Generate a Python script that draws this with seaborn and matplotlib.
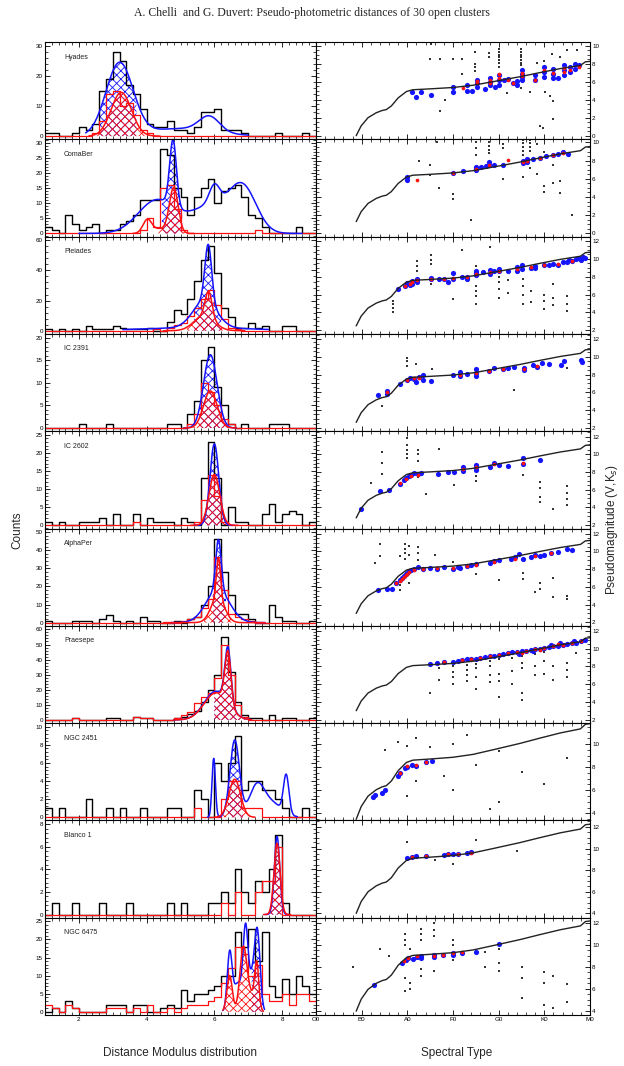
import numpy as np
import pandas as pd
import seaborn as sns
import matplotlib
matplotlib.use("Agg")
import matplotlib.pyplot as plt

sns.set_theme(style="ticks")
plt.rcParams['font.family'] = ['Liberation Sans', 'DejaVu Sans']
plt.rcParams['hatch.linewidth'] = 0.6

BLUE = '#1414ff'
RED = '#ff1010'

# ---------------- left column: distance modulus histograms ----------------
bin_edges = [round(1.0 + 0.2 * k, 2) for k in range(41)]
bin_centers = [round(1.1 + 0.2 * k, 2) for k in range(40)]

names = ['Hyades', 'ComaBer', 'Pleiades', 'IC 2391', 'IC 2602',
         'AlphaPer', 'Praesepe', 'NGC 2451', 'Blanco 1', 'NGC 6475']
count_max = [30, 30, 60, 20, 25, 50, 60, 10, 8, 25]
count_step = [10, 5, 20, 5, 5, 10, 10, 2, 2, 5]

hyades_black = [1,1,0,0,1,3,2,4,15,19, 28,25,17,14,9,4,3,3,5,2, 2,1,3,8,8,9,2,2,2,1, 0,0,0,0,1,0,0,0,1,0]
hyades_red = [0,0,0,0,0,0,0,1,5,14, 15,10,11,7,2,1,0,0,0,0, 0,0,0,0,0,0,0,0,0,0, 0,0,0,0,0,0,0,0,0,0]
comaber_black = [2,1,0,6,3,1,2,3,0,1, 1,3,4,6,11,11,11,28,26,15, 12,6,12,15,18,10,14,15,16,12, 6,5,2,0,0,0,0,2,0,0]
comaber_red = [0,0,0,0,0,0,0,0,0,0, 0,0,0,0,1,5,2,15,16,8, 1,0,0,0,0,0,0,0,0,0, 0,1,0,0,0,0,0,0,0,0]
pleiades_black = [1,0,1,0,1,0,3,1,1,1, 3,2,1,1,1,2,0,0,6,14, 11,21,33,47,56,38,15,9,2,2, 5,2,3,0,0,3,3,0,0,0]
pleiades_red = [0,0,0,0,0,0,0,0,0,0, 0,0,0,0,0,0,1,0,2,4, 5,10,15,21,27,17,8,2,1,0, 0,0,0,0,0,0,0,0,0,0]
ic2391_black = [0,0,0,0,0,1,0,0,0,1, 0,0,0,0,0,0,0,0,1,1, 0,3,6,15,18,9,5,1,0,1, 0,0,0,1,1,1,0,0,0,0]
ic2391_red = [0,0,0,0,0,0,0,0,0,0, 0,0,0,0,0,0,0,0,0,0, 0,1,3,10,8,5,2,1,0,0, 0,0,0,0,0,0,0,0,0,0]
ic2602_black = [1,0,1,0,0,1,1,1,2,0, 3,0,0,3,0,2,1,1,1,0, 2,1,0,13,23,13,0,5,1,1, 0,0,3,6,1,3,4,3,0,1]
ic2602_red = [0,0,0,0,0,0,0,0,0,0, 0,0,0,1,0,0,0,0,0,0, 0,0,1,7,14,8,1,0,0,0, 0,0,0,0,0,0,0,0,0,0]
alphaper_black = [1,0,0,0,1,1,1,0,2,4, 1,0,1,0,3,1,1,0,0,1, 0,2,3,10,20,46,28,15,5,5, 2,0,0,10,3,1,1,0,0,1]
alphaper_red = [0,0,0,0,0,0,0,0,0,0, 0,0,0,0,0,0,0,0,0,0, 1,2,3,8,13,36,18,5,3,2, 1,0,0,0,0,0,0,0,0,0]
praesepe_black = [0,0,0,0,1,0,0,0,0,1, 1,0,0,2,1,1,0,0,0,1, 2,4,6,12,20,30,55,32,12,3, 1,1,0,3,0,1,1,0,0,1]
praesepe_red = [0,0,0,0,1,0,0,0,0,0, 0,0,0,2,1,1,0,0,0,1, 3,5,11,15,18,28,50,30,10,2, 0,0,0,0,0,0,0,0,0,0]
ngc2451_black = [1,0,1,0,0,0,2,0,0,1, 0,1,0,0,1,0,0,0,1,1, 0,0,3,2,0,6,4,6,9,3, 4,4,3,3,2,1,0,0,1,0]
ngc2451_red = [0,0,0,0,0,0,0,0,0,0, 0,0,0,0,0,0,0,0,0,0, 0,0,1,0,0,0,2,4,4,1, 1,1,0,0,0,0,0,0,0,0]
blanco1_black = [0,1,0,0,1,0,0,0,1,0, 0,0,1,0,0,0,0,0,1,0, 1,0,0,0,1,1,2,1,4,2, 1,3,2,4,7,1,0,0,0,0]
blanco1_red = [0,0,0,0,0,0,0,0,0,0, 0,0,0,0,0,0,0,0,0,0, 0,0,0,0,0,0,1,0,2,0, 0,2,3,3,6,0,0,0,0,0]
ngc6475_black = [0,1,0,3,1,0,0,0,0,2, 2,2,0,2,2,0,0,1,2,1, 6,3,5,5,6,7,10,10,22,18, 23,14,22,7,4,9,5,10,7,5]
ngc6475_red = [2,1,0,2,1,0,0,0,0,1, 1,1,0,1,0,2,0,0,1,0, 1,2,2,2,3,4,8,12,18,16, 10,13,5,3,3,5,2,5,5,3]

# fitted gaussian components (amplitude, mean, sigma) and the span they are drawn on
blue_fits = [
    [(24, 3.2, 0.4), (2.5, 5.0, 1.0), (5, 5.85, 0.3)],
    [(11, 4.3, 0.55), (22, 4.78, 0.1), (6, 6.0, 0.15), (14, 6.85, 0.4), (9, 5.9, 0.6)],
    [(38, 5.82, 0.1), (18, 5.72, 0.35), (2, 5.5, 1.6)],
    [(16.2, 5.88, 0.2)],
    [(22.5, 6.0, 0.13)],
    [(28, 6.12, 0.08), (18, 6.1, 0.35)],
    [(37, 6.4, 0.09), (19, 6.05, 0.35)],
    [(6.5, 5.98, 0.05), (8.5, 6.6, 0.14), (3.3, 7.25, 0.22), (4.2, 8.12, 0.08), (1.5, 7.7, 0.3)],
    [(6.9, 7.85, 0.08)],
    [(15, 6.45, 0.07), (20, 6.92, 0.07), (21, 7.27, 0.08), (8, 6.7, 0.15), (9, 7.1, 0.1)],
]
blue_span = [(2.2, 7.0), (2.0, 8.6), (3.3, 7.6), (5.1, 6.65), (5.4, 6.6),
             (4.7, 7.5), (4.8, 7.1), (5.8, 8.45), (7.5, 8.2), (6.25, 7.48)]
red_fits = [
    [(14.5, 3.25, 0.3)],
    [(4.5, 4.02, 0.13), (15, 4.8, 0.13), (1.5, 4.4, 0.2)],
    [(17, 5.83, 0.1), (10, 5.7, 0.3)],
    [(8.2, 5.88, 0.2)],
    [(14, 6.0, 0.16)],
    [(22, 6.12, 0.06), (14, 6.1, 0.2)],
    [(35, 6.4, 0.09), (18, 6.05, 0.35)],
    [(4.2, 6.6, 0.17)],
    [(6.3, 7.85, 0.09)],
    [(10, 6.45, 0.08), (16, 6.85, 0.1), (12, 7.25, 0.06), (5, 7.05, 0.15)],
]
red_span = [(2.3, 4.4), (3.6, 5.4), (4.5, 6.9), (5.1, 6.65), (5.3, 6.7),
            (4.5, 7.5), (4.8, 7.1), (6.0, 7.2), (7.45, 8.25), (6.25, 7.45)]
blue_hatch = [(2.6, 3.7), (4.45, 5.05), (5.4, 6.2), (5.55, 6.4), (5.7, 6.3),
              (5.95, 6.35), (6.0, 7.0), (6.4, 6.85), (7.65, 8.05), (7.1, 7.45)]
red_hatch = [(2.5, 4.1), (4.35, 5.2), (5.2, 6.5), (5.2, 6.6), (5.5, 6.55),
             (5.7, 6.55), (6.0, 7.0), (6.15, 7.05), (7.65, 8.05), (6.3, 7.45)]

black_hists = [hyades_black, comaber_black, pleiades_black, ic2391_black, ic2602_black,
               alphaper_black, praesepe_black, ngc2451_black, blanco1_black, ngc6475_black]
red_hists = [hyades_red, comaber_red, pleiades_red, ic2391_red, ic2602_red,
             alphaper_red, praesepe_red, ngc2451_red, blanco1_red, ngc6475_red]

# ---------------- right column: pseudomagnitude vs spectral type ----------------
spt_ticks = [0, 10, 20, 30, 40, 50, 60]
spt_labels = ['O0', 'B0', 'A0', 'F0', 'G0', 'K0', 'M0']

ms_spt = [8.8, 9.9, 11.4, 13.2, 14.5, 15.4, 16.5, 18.0, 19.8, 21.2, 25.0, 30.0,
          34.4, 38.8, 44.7, 49.0, 53.5, 57.9, 59.0, 60.0]
ms_mag = [0.0, 1.1, 2.0, 2.55, 2.8, 2.9, 3.3, 4.2, 4.9, 5.1, 5.2, 5.35,
          5.6, 6.0, 6.55, 7.0, 7.45, 7.8, 8.2, 8.25]
ms_offset = [0.0, 1.3, 2.5, 2.6, 2.8, 3.0, 3.0, 3.5, 4.0, 3.95]
mag_lims = [(-0.4, 10.4), (-0.35, 10.35), (1.6, 12.5), (1.6, 12.6), (1.6, 12.6),
            (1.6, 12.6), (1.6, 12.6), (3.4, 11.8), (3.6, 12.6), (3.6, 12.5)]
mag_tick_lo = [0, 0, 2, 2, 2, 2, 2, 4, 4, 4]

hy_bx = [21.1,22,23.1,25.1,30,30,33.1,33.1,34.2,35.2,35.2,35.2,37.1,38.1,38.1,38.1,39.2,40.1,40.1,40.1,41.2,42.1,43.2,44.1,44.1,45.1,45.1,45.1,45.1,47.9,47.9,50,50,50,52,52,52,53.1,54.2,54.2,54.2,55.7,55.7,56.8,56.8,57.5]
hy_by = [4.9,4.25,4.9,4.5,4.85,5.4,5.6,5.0,5.0,5.8,5.45,6.2,5.2,6.4,6.0,5.6,5.45,6.7,6.2,5.6,6.2,6.3,5.8,5.6,6.1,7.3,6.9,6.5,6.2,6.2,6.7,7.6,7.1,6.5,7.45,6.9,6.4,6.4,7.8,7.3,6.7,7.6,7.1,8.0,7.45,7.8]
hy_rx = [32.1,35.2,35.2,38.1,38.1,40.1,40.1,42.1,43.2,45.1,45.1,47.9,50,52,54.2,54.2,55.7,57.5]
hy_ry = [5.3,5.8,6.1,6.2,5.8,6.9,6.4,6.2,5.8,7.0,6.6,6.2,7.3,7.0,7.5,7.1,7.3,7.6]
hy_dx = [25.1,24.9,27.1,30.0,31.9,31.9,27.1,28.2,34.8,34.8,34.8,34.8,37.9,37.9,40.0,40.0,40.0,40.0,40.0,40.0,40.0,41.8,44.8,44.8,44.8,44.8,44.8,44.8,44.8,44.8,46.9,50.2,51.2,52.0,52.0,49.1,49.8,54.9,57.1,51.6,53.5,48.5,50.0]
hy_dy = [10.2,8.5,8.5,8.5,8.5,6.9,2.7,4.0,9.3,8.0,7.6,7.2,9.2,8.7,9.6,9.3,9.0,8.7,8.4,8.1,7.6,4.7,9.6,9.3,9.0,8.7,8.4,8.1,7.8,5.3,4.9,4.9,4.4,3.8,1.8,1.1,0.9,9.5,9.5,9.1,8.7,8.1,8.3]

cb_bx = [20,20,29.9,32.1,35,35,35,36.1,37.2,37.9,37.9,39,40.9,45.3,45.3,46.1,46.1,47.5,49,50.4,51.9,53,54.1,55.2]
cb_by = [6.2,5.9,6.6,6.9,7.0,7.2,7.35,7.3,7.4,7.5,7.85,7.5,7.5,8.0,7.7,7.8,8.2,8.2,8.3,8.5,8.6,8.7,8.9,8.7]
cb_rx = [22.2,29.9,35,37.9,42,45.3,46.1,49,51.9,54.1]
cb_ry = [5.9,6.6,7.1,7.5,8.1,7.9,8.0,8.3,8.6,8.8]
cb_dx = [26.4,22.5,25,25,30,35,35,35,35,37.9,37.9,37.9,37.9,40.9,40.9,40.9,45.3,45.3,45.3,45.3,45.3,45.3,46.8,46.8,46.8,46.8,46.8,48.3,48.3,50,50,50,52,52,53.5,53.5,55.5,30,34,27,56]
cb_dy = [10.0,8.0,7.5,6.4,4.3,10.0,9.4,8.6,6.8,10.0,9.6,9.2,8.8,9.8,9.4,6.0,10.3,9.9,9.5,9.1,8.6,6.2,10.3,9.9,9.5,9.1,7.2,9.8,6.5,9.0,5.2,4.5,7.5,5.5,5.8,4.4,8.5,3.8,1.5,5.0,2.0]

pl_bx = [18,19.5,20,20.5,21,21,22.2,22.2,22.2,25.2,25.2,26.9,28,29,30.1,30.1,32,33,33,35,35,35,36.5,38,38,39,40,40,42,44,44,45,45,47,48,48,50,51,52,53,54,55,55.5,56,57,57.5,58,58.5,59]
pl_by = [6.6,7.0,7.3,7.1,7.5,7.2,7.4,7.8,7.6,7.9,7.7,7.7,7.7,7.4,7.8,8.4,8.0,8.0,7.8,8.2,8.6,8.4,8.5,8.3,8.8,8.6,8.6,8.9,8.7,8.6,9.1,8.9,9.3,9.0,9.2,9.0,9.3,9.3,9.4,9.3,9.6,9.6,9.9,9.8,10.0,10.1,9.9,10.2,10.1]
pl_rx = [19.5,20.5,21,22.2,25.2,28,30.1,33,35,38,40,44,47,50,53,56]
pl_ry = [7.0,7.2,7.4,7.6,7.8,7.7,7.9,8.0,8.3,8.5,8.7,8.9,9.1,9.3,9.4,9.8]
pl_dx = [16.9,16.9,16.9,16.9,22.2,22.2,22.2,25.2,25.2,25.2,25.2,35,35,35,35,35,40,40,40,40,45.3,45.3,45.3,45.3,50,50,50,52,52,52,55,55,55,30,32,38,47,47,42,42]
pl_dy = [5.3,4.9,4.5,4.0,9.8,9.2,8.6,10.4,9.9,9.4,7.2,9.2,7.0,6.4,5.8,5.0,8.0,7.4,6.6,5.6,7.8,7.0,6.0,5.0,6.0,5.3,4.4,7.2,5.6,4.8,5.8,5.0,4.2,5.5,11.0,11.3,6.4,5.2,7.6,6.2]

ic91_bx = [13.5,15.5,15.5,18.4,20,20.5,21.4,22,22.5,23.4,23.4,25.2,30,31.5,31.5,33,35,35,35,37.9,39,41,42,43.4,45.5,45.5,47.5,48.5,49.5,51,53.6,54.3,58,58.3]
ic91_by = [5.67,5.8,6.1,6.9,7.4,7.6,7.5,7.2,7.7,7.9,7.4,7.3,8.0,7.8,8.3,8.1,7.8,8.2,8.6,8.4,8.7,8.6,8.8,8.9,8.5,8.8,9.1,8.9,9.3,9.2,9.1,9.5,9.6,9.4]
ic91_rx = [15.5,20,21.4,22.5,31.5,35,37.9,41,45.5,48.5]
ic91_ry = [6.0,7.4,7.6,7.6,8.0,8.2,8.4,8.6,8.6,9.0]
ic91_dx = [20,20,20,14.5,25.5,42,55,43.4,22]
ic91_dy = [9.9,9.5,9.0,4.4,8.6,8.5,8.7,6.3,9.2]

ic02_bx = [9.9,14.1,16,18.4,19.3,19.8,20.3,20.8,21.5,22.3,23,26.7,28.8,30.2,32.2,32.2,35,35,35,38,39,40,42,45.3,45.3,49]
ic02_by = [3.8,5.8,5.9,6.6,7.1,7.3,7.5,7.6,7.9,7.8,7.9,7.8,8.0,8.0,8.1,8.5,8.2,8.5,8.8,8.6,9.0,8.8,8.7,9.6,8.9,9.3]
ic02_rx = [18.4,19.8,20.8,22.3,32.2,35,39,45.3]
ic02_ry = [6.7,7.2,7.5,7.7,8.3,8.5,8.9,9.0]
ic02_dx = [14.5,14.5,14.5,20,20,20,20,20,22.3,22.3,22.3,22.3,27,30.2,35,35,45.3,49,49,49,49,55,55,55,55,12,24,51.9]
ic02_dy = [10.2,9.0,7.8,11.8,11.0,10.5,10.0,9.6,10.5,10.0,9.2,7.4,10.6,6.5,7.5,7.0,7.6,6.9,6.2,5.2,4.6,6.4,5.6,4.9,4.3,6.8,5.5,3.8]

ap_bx = [13.5,15.5,16.6,17.5,18.4,18.8,19.2,19.6,20,20.4,20.8,21.5,22.3,23.4,25,26.5,28,30,31,31.5,33,34,35,38,39,40,42.7,43.5,44.5,45.3,47,48,49,50,51.5,53,55,56]
ap_by = [5.6,5.8,5.8,6.4,6.8,7.0,7.2,7.4,7.6,7.8,7.9,8.0,8.2,8.0,8.1,8.0,8.2,8.0,8.3,8.1,8.4,8.5,8.6,8.7,8.9,9.0,9.1,9.4,9.7,9.2,9.4,9.6,9.5,9.6,9.8,9.9,10.3,10.2]
ap_rx = [17.5,18.4,18.8,19.2,19.6,20,20.4,21.5,23.4,26.5,30,33,35,39,43.5,48,51.5]
ap_ry = [6.4,6.7,6.9,7.1,7.3,7.5,7.7,7.9,8.0,8.1,8.1,8.4,8.5,8.8,9.2,9.5,9.8]
ap_dx = [14,14,18.4,18.4,18.4,19.5,19.5,19.5,19.5,20.3,20.3,20.3,22.3,22.3,22.3,26,30,35,40,45.3,45.3,49,49,52,52,55,55,13,48]
ap_dy = [10.8,9.5,9.5,6.2,5.6,10.9,10.3,9.8,9.2,10.6,9.6,6.4,10.5,9.8,9.0,9.6,8.8,7.5,6.8,7.6,6.9,6.4,5.8,7.0,4.8,5.0,4.6,8.7,5.4]

pr_bx = [25,26.5,28,30,31,32,33,34,35,36,37,38,39,40,41,42,43,44,45,46,47,48,49,50,51,52,53,54,55,56,57,58,59,44.5,47.5,51.5,53.5,56.5]
pr_by = [8.3,8.4,8.5,8.5,8.6,8.7,8.8,8.8,8.9,9.0,9.1,9.2,9.2,9.3,9.4,9.5,9.6,9.6,9.7,9.8,9.9,10.0,10.0,10.1,10.2,10.3,10.3,10.4,10.5,10.6,10.7,10.9,11.0,9.4,9.7,10.4,10.6,10.9]
pr_rx = [28,32,34,36,38,40,42,44,46,48,50,52,54,56,58,45,49,53]
pr_ry = [8.5,8.7,8.8,9.0,9.2,9.3,9.5,9.6,9.8,10.0,10.1,10.3,10.4,10.6,10.9,9.5,9.9,10.5]
pr_dx = [27,27,30,30,33,33,35,35,38,38,40,40,40,43,43,45,45,48,48,50,52,55,25,57,
         30,30,33,33,35,35,38,38,40,43,45,45,45,48,50,50,52,55,55]
pr_dy = [7.8,6.5,8.0,6.8,8.2,7.0,8.3,5.5,8.6,6.2,8.8,7.2,4.5,9.0,6.0,9.2,5.0,9.4,7.0,9.6,6.5,8.4,5.0,9.5,
         7.4,6.0,7.6,6.4,7.8,6.8,8.0,7.0,6.4,7.5,8.4,7.8,4.2,8.0,8.6,7.2,8.0,7.6,6.8]

n51_bx = [12.5,13,14.5,15,18,18.5,19.5,20,21,22,24,25.5]
n51_by = [5.4,5.6,5.8,6.0,7.2,7.5,7.9,8.0,8.2,8.1,8.4,8.5]
n51_rx = [18.5,20,22,24]
n51_ry = [7.5,8.1,8.2,8.4]
n51_dx = [15,18,20,20,22,22,25,28,30,30,35,40,40,45,50,55,33,38]
n51_dy = [9.5,10.2,9.8,5.5,10.5,6.8,9.7,7.2,10.0,6.0,8.2,9.4,5.0,7.6,6.5,8.8,10.8,4.4]

bl_bx = [20,21,22,24,28,29,30,31,33,34]
bl_by = [9.1,9.2,9.3,9.3,9.4,9.5,9.45,9.5,9.6,9.7]
bl_rx = [21,24,29,31,34]
bl_ry = [9.2,9.3,9.45,9.5,9.6]
bl_dx = [26,35,44,20,30]
bl_dy = [8.9,10.8,9.8,10.6,8.6]

n75_bx = [12.8,18.9,19.8,20.2,21.2,22.2,22.9,22.9,25.8,25.8,27.9,30,30,32,35,40]
n75_by = [6.35,8.4,8.6,8.8,8.7,8.9,9.0,8.8,9.1,8.9,9.1,9.3,9.1,9.3,9.4,10.1]
n75_rx = [19.2,20.2,22.2,25.8,27.9,30,32]
n75_ry = [8.5,8.8,9.0,9.0,9.1,9.3,9.35]
n75_dx = [19.5,19.5,19.5,19.5,19.5,20.5,20.5,20.5,22.9,22.9,22.9,22.9,22.9,25.8,25.8,25.8,25.8,30,30,30,37,37,40,40,40,45,45,45,50,50,50,52,52,55,55,14,16,8]
n75_dy = [11.0,10.5,10.0,7.0,5.8,9.6,6.5,6.0,11.5,11.0,10.5,7.8,7.2,12.0,11.4,10.8,7.6,10.5,10.0,8.6,9.4,8.0,9.6,8.4,7.6,8.0,7.0,5.2,7.5,6.5,4.5,7.2,4.2,6.4,4.8,9.6,9.0,8.0]

blue_x = [hy_bx, cb_bx, pl_bx, ic91_bx, ic02_bx, ap_bx, pr_bx, n51_bx, bl_bx, n75_bx]
blue_y = [hy_by, cb_by, pl_by, ic91_by, ic02_by, ap_by, pr_by, n51_by, bl_by, n75_by]
red_x = [hy_rx, cb_rx, pl_rx, ic91_rx, ic02_rx, ap_rx, pr_rx, n51_rx, bl_rx, n75_rx]
red_y = [hy_ry, cb_ry, pl_ry, ic91_ry, ic02_ry, ap_ry, pr_ry, n51_ry, bl_ry, n75_ry]
dot_x = [hy_dx, cb_dx, pl_dx, ic91_dx, ic02_dx, ap_dx, pr_dx, n51_dx, bl_dx, n75_dx]
dot_y = [hy_dy, cb_dy, pl_dy, ic91_dy, ic02_dy, ap_dy, pr_dy, n51_dy, bl_dy, n75_dy]


def model(x, comps):
    y = np.zeros_like(x)
    for a, m, s in comps:
        y += a * np.exp(-0.5 * ((x - m) / s) ** 2)
    return y


def idl_ticks(ax, labelsize=4.5):
    ax.tick_params(which='both', direction='in', top=True, right=True,
                   labelsize=labelsize, pad=1.5, colors='black')
    ax.tick_params(which='major', length=3.5, width=0.6)
    ax.tick_params(which='minor', length=2, width=0.5)
    for s in ax.spines.values():
        s.set_linewidth(0.8)
        s.set_color('black')


W, H = 624, 1066
fig = plt.figure(figsize=(W / 100, H / 100), dpi=100)
x_left, x_mid, x_right = 45, 316, 590
y_top, y_bot = 42, 1015
row_h = (y_bot - y_top) / 10
grid = np.linspace(1, 9, 1601)

for i in range(10):
    top = y_top + i * row_h
    rect_l = [x_left / W, 1 - (top + row_h) / H, (x_mid - x_left) / W, row_h / H]
    rect_r = [x_mid / W, 1 - (top + row_h) / H, (x_right - x_mid) / W, row_h / H]
    axl = fig.add_axes(rect_l)
    axr = fig.add_axes(rect_r)

    # ---- left: histograms and fits
    fb, fr = model(grid, blue_fits[i]), model(grid, red_fits[i])
    bh, rh = blue_hatch[i], red_hatch[i]
    axl.fill_between(grid, fb, where=(grid >= bh[0]) & (grid <= bh[1]),
                     facecolor='none', edgecolor=BLUE, hatch='xxxx', lw=0)
    axl.fill_between(grid, fr, where=(grid >= rh[0]) & (grid <= rh[1]),
                     facecolor='none', edgecolor=RED, hatch='xxxx', lw=0)
    hist = pd.DataFrame({'dm': bin_centers, 'all': black_hists[i], 'sel': red_hists[i]})
    sns.histplot(data=hist, x='dm', weights='all', bins=bin_edges, element='step',
                 fill=False, color='black', linewidth=1.0, ax=axl)
    sns.histplot(data=hist, x='dm', weights='sel', bins=bin_edges, element='step',
                 fill=False, color=RED, linewidth=0.9, ax=axl)
    sb = (grid >= blue_span[i][0]) & (grid <= blue_span[i][1])
    sr = (grid >= red_span[i][0]) & (grid <= red_span[i][1])
    sns.lineplot(x=grid[sb], y=fb[sb], color=BLUE, linewidth=1.1, estimator=None, ax=axl)
    sns.lineplot(x=grid[sr], y=fr[sr], color=RED, linewidth=1.1, estimator=None, ax=axl)

    ymax = count_max[i]
    axl.set_xlim(1, 9)
    axl.set_ylim(-0.035 * ymax, 1.04 * ymax)
    axl.set_yticks(np.arange(0, ymax + 0.1, count_step[i]))
    axl.yaxis.set_minor_locator(matplotlib.ticker.AutoMinorLocator(5))
    axl.set_xticks([2, 4, 6, 8])
    axl.xaxis.set_minor_locator(matplotlib.ticker.AutoMinorLocator(10))
    axl.set_xlabel('')
    axl.set_ylabel('')
    idl_ticks(axl)
    if i < 9:
        axl.set_xticklabels([])
    axl.text(0.07, 0.83, names[i], transform=axl.transAxes, fontsize=5, color='#222222')

    # ---- right: spectral type vs pseudomagnitude
    curve = pd.DataFrame({'spt': ms_spt, 'mag': np.array(ms_mag) + ms_offset[i]})
    sns.scatterplot(x=dot_x[i], y=dot_y[i], color='#333333', s=1.2, marker='s',
                    linewidth=0, ax=axr)
    sns.lineplot(data=curve, x='spt', y='mag', color='#222222', linewidth=1.0,
                 estimator=None, sort=False, ax=axr)
    sns.scatterplot(x=blue_x[i], y=blue_y[i], color=BLUE, s=14, linewidth=0, ax=axr)
    sns.scatterplot(x=red_x[i], y=red_y[i], color=RED, s=7, linewidth=0, ax=axr)
    lo, hi = mag_lims[i]
    axr.set_xlim(0, 60)
    axr.set_ylim(lo, hi)
    axr.set_yticks(np.arange(mag_tick_lo[i], hi + 0.01, 2))
    axr.yaxis.set_minor_locator(matplotlib.ticker.AutoMinorLocator(4))
    axr.set_xticks(spt_ticks)
    axr.xaxis.set_minor_locator(matplotlib.ticker.AutoMinorLocator(5))
    axr.set_xlabel('')
    axr.set_ylabel('')
    idl_ticks(axr)
    axr.tick_params(axis='y', labelleft=False, labelright=True)
    if i < 9:
        axr.set_xticklabels([])
    else:
        axr.set_xticklabels(spt_labels)

fig.text(0.5, 1 - 13 / H, 'A. Chelli  and G. Duvert: Pseudo-photometric distances of 30 open clusters',
         ha='center', va='center', fontsize=8.5, family=['Liberation Serif', 'DejaVu Serif'])
fig.text(17 / W, 1 - 530 / H, 'Counts', rotation=90, ha='center', va='center', fontsize=8.5)
fig.text(612 / W, 1 - 530 / H, 'Pseudomagnitude (V,K$_s$)', rotation=90,
         ha='center', va='center', fontsize=8.5)
fig.text(180 / W, 1 - 1053 / H, 'Distance Modulus distribution', ha='center', va='center', fontsize=8.5)
fig.text(457 / W, 1 - 1053 / H, 'Spectral Type', ha='center', va='center', fontsize=8.5)

fig.savefig('out.png', dpi=100, facecolor='white')
